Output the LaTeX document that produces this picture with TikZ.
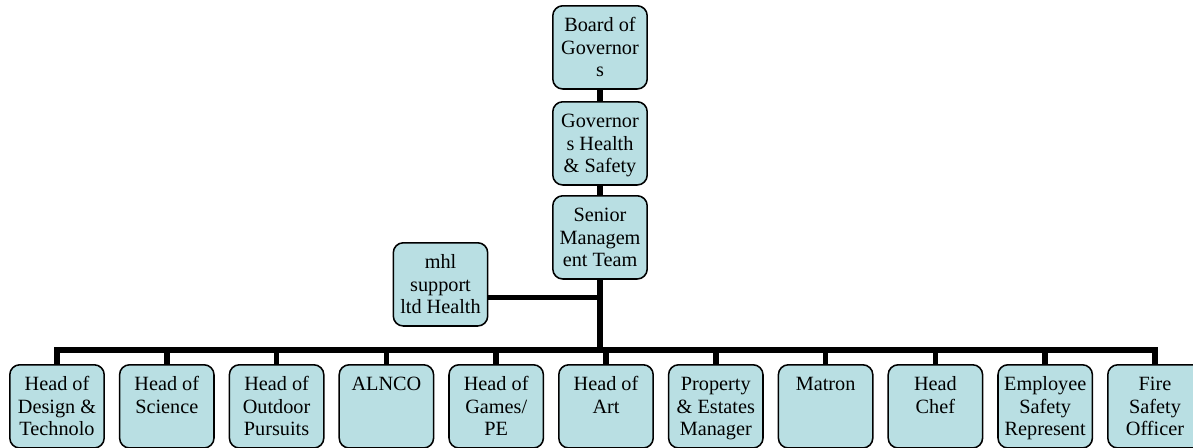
\documentclass[tikz,border=0pt]{standalone}
\usepackage{fontspec}
\setmainfont{Liberation Serif}
\usetikzlibrary{positioning}
\definecolor{orgfill}{RGB}{185,223,227}
\newcommand{\boxtext}[1]{\parbox[t][1.58cm][t]{2.3cm}{\centering\strut #1}}
\tikzset{
  orgbox/.style={draw, fill=orgfill, rounded corners=0.25cm, line width=1.1pt, anchor=north, inner xsep=0.03cm, inner ysep=0.25cm, font=\fontsize{14.4}{16}\selectfont},
  orglink/.style={line width=4pt}
}

\begin{document}
\begin{tikzpicture}[x=0.025cm, y=-0.025cm]
\useasboundingbox (0,0) rectangle (1193,448);
\node[orgbox] (board) at (600,5) {\boxtext{Board of\\Governor\\s}};
\node[orgbox] (govhs) at (600,101) {\boxtext{Governor\\s Health\\\& Safety}};
\node[orgbox] (smt) at (600,195) {\boxtext{Senior\\Managem\\ent Team}};
\node[orgbox] (mhl) at (440.5,242) {\boxtext{mhl\\support\\ltd Health}};
\coordinate (bar) at (600,350);
\node[orgbox] (design) at (57,364) {\boxtext{Head of\\Design \&\\Technolo}};
\node[orgbox] (science) at (166.8,364) {\boxtext{Head of\\Science}};
\node[orgbox] (outdoor) at (276.6,364) {\boxtext{Head of\\Outdoor\\Pursuits}};
\node[orgbox] (alnco) at (386.4,364) {\boxtext{ALNCO}};
\node[orgbox] (games) at (496.2,364) {\boxtext{Head of\\Games/\\PE}};
\node[orgbox] (art) at (606,364) {\boxtext{Head of\\Art}};
\node[orgbox] (estates) at (715.8,364) {\boxtext{Property\\\& Estates\\Manager}};
\node[orgbox] (matron) at (825.6,364) {\boxtext{Matron}};
\node[orgbox] (chef) at (935.4,364) {\boxtext{Head\\Chef}};
\node[orgbox] (employee) at (1045.2,364) {\boxtext{Employee\\Safety\\Represent}};
\node[orgbox] (fire) at (1155,364) {\boxtext{Fire\\Safety\\Officer}};
% links
\draw[orglink] (board.south) -- (govhs.north);
\draw[orglink] (govhs.south) -- (smt.north);
\draw[orglink] (smt.south) -- (bar);
\draw[orglink] ([yshift=-0.33cm]mhl.east) -- ([yshift=-0.33cm]mhl.east -| bar);
\draw[orglink] (design.north) |- (bar) -| (fire.north);
\draw[orglink] (science.north) -- (science.north |- bar);
\draw[orglink] (outdoor.north) -- (outdoor.north |- bar);
\draw[orglink] (alnco.north) -- (alnco.north |- bar);
\draw[orglink] (games.north) -- (games.north |- bar);
\draw[orglink] (art.north) -- (art.north |- bar);
\draw[orglink] (estates.north) -- (estates.north |- bar);
\draw[orglink] (matron.north) -- (matron.north |- bar);
\draw[orglink] (chef.north) -- (chef.north |- bar);
\draw[orglink] (employee.north) -- (employee.north |- bar);
\end{tikzpicture}
\end{document}
